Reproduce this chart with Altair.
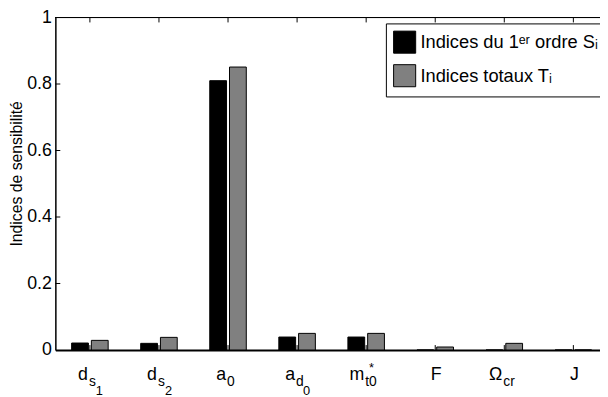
import altair as alt
import pandas as pd

# ---- data ----
categories = ["ds1", "ds2", "a0", "ad0", "mt0", "F", "Ocr", "J"]
main_labels = ["d", "d", "a", "a", "m", "F", "Ω", "J"]
sub_labels = ["s", "s", "0", "d", "t0", "", "cr", ""]
subsub_labels = ["1", "2", "", "0", "", "", "", ""]
sup_labels = ["", "", "", "", "*", "", "", ""]

first_order = [0.021, 0.020, 0.810, 0.039, 0.039, 0.0, 0.0, 0.0]
total_order = [0.029, 0.038, 0.851, 0.050, 0.050, 0.009, 0.020, 0.0]

series_names = ["Indices du 1ᵉʳ ordre Sᵢ", "Indices totaux Tᵢ"]
series_colors = ["#000000", "#808080"]

y_tick_values = [0, 0.2, 0.4, 0.6, 0.8, 1]
y_inner_ticks = [0.2, 0.4, 0.6, 0.8]

FONT = "Liberation Sans"
W, H = 552, 337

rows = []
for i, c in enumerate(categories):
    rows.append({"cat": c, "series": series_names[0], "value": first_order[i]})
    rows.append({"cat": c, "series": series_names[1], "value": total_order[i]})
bars_df = pd.DataFrame(rows)

labels_df = pd.DataFrame({
    "cat": categories,
    "main": main_labels,
    "sub": sub_labels,
    "subsub": subsub_labels,
    "sup": sup_labels,
})
yticks_df = pd.DataFrame({"value": y_inner_ticks})

xscale = alt.Scale(domain=categories, range=[0, 560], paddingInner=0.471, paddingOuter=0.2355)
yscale = alt.Scale(domain=[0, 1], nice=False)

yaxis = alt.Axis(values=y_tick_values, format="~g", ticks=False, grid=False,
                 domainColor="black", domainWidth=1.5,
                 labelFont=FONT, labelFontSize=18, labelColor="black", labelPadding=4,
                 title="Indices de sensibilité", titleFont=FONT, titleFontSize=16,
                 titleFontWeight="normal", titleColor="black", titlePadding=2,
                 titleY=158)
xaxis = alt.Axis(labels=False, ticks=False, title=None, domainColor="black", domainWidth=2)


def xenc():
    return alt.X("cat:N", scale=xscale, sort=categories, axis=xaxis)


bars = alt.Chart(bars_df).mark_bar(stroke="black", strokeWidth=1).encode(
    x=xenc(),
    xOffset=alt.XOffset("series:N", sort=series_names,
                        scale=alt.Scale(paddingInner=0.15, paddingOuter=0)),
    y=alt.Y("value:Q", scale=yscale, axis=yaxis),
    color=alt.Color("series:N", scale=alt.Scale(domain=series_names, range=series_colors),
                    legend=alt.Legend(orient="none", legendX=335, legendY=6, title=None,
                                      padding=7, strokeColor="black", fillColor="white",
                                      symbolType="square", symbolSize=500,
                                      symbolStrokeColor="black", symbolStrokeWidth=1,
                                      labelFont=FONT, labelFontSize=18.5, labelColor="black",
                                      labelOffset=4, rowPadding=6, labelLimit=400)),
)

top_line = alt.Chart(labels_df).mark_rule(color="black", strokeWidth=1).encode(
    x=alt.value(0), x2=alt.value(W), y=alt.value(0)
)

x_ticks_bottom = alt.Chart(labels_df).mark_rule(color="black", strokeWidth=1).encode(
    x=xenc(), y=alt.value(H), y2=alt.value(H - 5)
)
x_ticks_top = alt.Chart(labels_df).mark_rule(color="black", strokeWidth=1).encode(
    x=xenc(), y=alt.value(0), y2=alt.value(5)
)
y_ticks = alt.Chart(yticks_df).mark_rule(color="black", strokeWidth=1).encode(
    y=alt.Y("value:Q", scale=yscale, axis=yaxis), x=alt.value(0), x2=alt.value(5)
)

main_center = alt.Chart(labels_df).transform_filter("datum.sub == ''").mark_text(
    font=FONT, fontSize=18, align="center", baseline="alphabetic", color="black", dx=1
).encode(x=xenc(), y=alt.value(367), text="main:N")

main_right = alt.Chart(labels_df).transform_filter("datum.sub != ''").mark_text(
    font=FONT, fontSize=18, align="right", baseline="alphabetic", color="black", dx=-2
).encode(x=xenc(), y=alt.value(367), text="main:N")

sub_text = alt.Chart(labels_df).mark_text(
    font=FONT, fontSize=14, align="left", baseline="alphabetic", color="black", dx=-1
).encode(x=xenc(), y=alt.value(373), text="sub:N")

subsub_text = alt.Chart(labels_df).mark_text(
    font=FONT, fontSize=13, align="left", baseline="alphabetic", color="black", dx=6
).encode(x=xenc(), y=alt.value(383), text="subsub:N")

sup_text = alt.Chart(labels_df).mark_text(
    font=FONT, fontSize=13, align="left", baseline="alphabetic", color="black", dx=3
).encode(x=xenc(), y=alt.value(359), text="sup:N")

chart = alt.layer(
    bars, top_line, x_ticks_bottom, x_ticks_top, y_ticks,
    main_center, main_right, sub_text, subsub_text, sup_text
).properties(
    width=W, height=H,
    autosize=alt.AutoSizeParams(type="none"),
    padding={"left": 48, "top": 7, "right": 0, "bottom": 45},
).configure_view(stroke=None).configure(font=FONT)

chart.save("out.html", embed_options={"renderer": "svg", "actions": False})
